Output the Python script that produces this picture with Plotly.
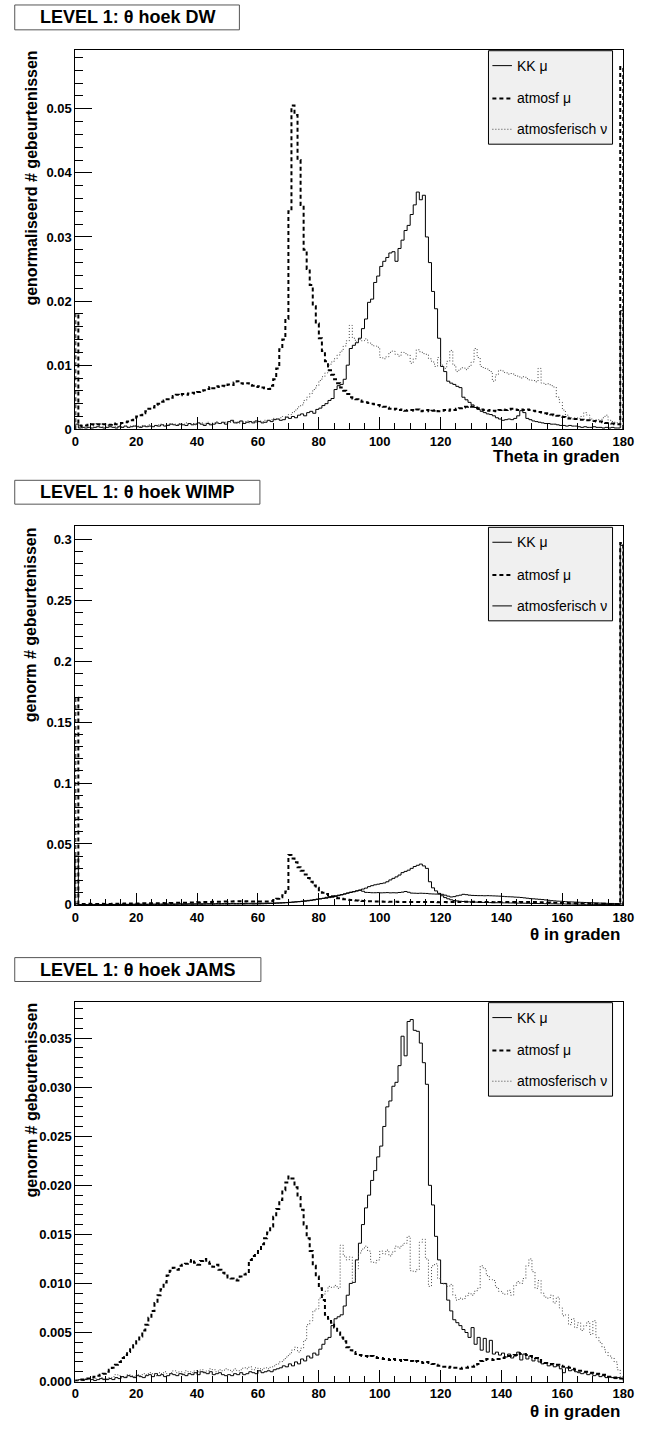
import numpy as np
import plotly.graph_objects as go

W, H = 646, 1433

# ---------------- data: normalised theta distributions, 1 degree bins 0..180 ----------------
BIN_LO, BIN_HI = 0, 180

# LEVEL 1 : DW
dw_kk = [
    0.0008, 0.0002, 0.0003, 0.0002, 0.0003, 0.0002, 0.0003, 0.0004, 0.0003, 0.0002,
    0.0003, 0.0004, 0.0003, 0.0002, 0.0004, 0.0003, 0.0005, 0.0003, 0.0004, 0.0005,
    0.0004, 0.0003, 0.0005, 0.0004, 0.0005, 0.0004, 0.0006, 0.0005, 0.0007, 0.0005,
    0.0006, 0.0008, 0.0007, 0.0006, 0.0008, 0.0007, 0.0006, 0.0009, 0.0007, 0.0008,
    0.0010, 0.0008, 0.0006, 0.0009, 0.0007, 0.0008, 0.0010, 0.0009, 0.0011, 0.0008,
    0.0012, 0.0014, 0.0010, 0.0011, 0.0013, 0.0009, 0.0011, 0.0012, 0.0010, 0.0013,
    0.0012, 0.0010, 0.0011, 0.0014, 0.0012, 0.0015, 0.0016, 0.0014, 0.0015, 0.0019,
    0.0017, 0.0020, 0.0018, 0.0022, 0.0024, 0.0021, 0.0026, 0.0028, 0.0025, 0.0031,
    0.0033, 0.0037, 0.0040, 0.0045, 0.0048, 0.0062, 0.0068, 0.0070, 0.0078, 0.0100,
    0.0126, 0.0131, 0.0135, 0.0142, 0.0157, 0.0172, 0.0198, 0.0203, 0.0229, 0.0239,
    0.0254, 0.0262, 0.0268, 0.0275, 0.0277, 0.0262, 0.0282, 0.0295, 0.0310, 0.0318,
    0.0335, 0.0350, 0.0370, 0.0358, 0.0365, 0.0300, 0.0260, 0.0215, 0.0188, 0.0142,
    0.0098, 0.0090, 0.0075, 0.0072, 0.0070, 0.0067, 0.0065, 0.0050, 0.0046, 0.0042,
    0.0038, 0.0034, 0.0031, 0.0028, 0.0026, 0.0024, 0.0023, 0.0021, 0.0018, 0.0016,
    0.0014, 0.0015, 0.0016, 0.0015, 0.0017, 0.0021, 0.0029, 0.0026, 0.0017, 0.0015,
    0.0013, 0.0012, 0.0011, 0.0010, 0.0009, 0.0009, 0.0008, 0.0008, 0.0007, 0.0006,
    0.0006, 0.0005, 0.0006, 0.0005, 0.0005, 0.0004, 0.0003, 0.0004, 0.0003, 0.0003,
    0.0004, 0.0003, 0.0003, 0.0002, 0.0003, 0.0002, 0.0003, 0.0002, 0.0002, 0.0185,
]
dw_atm_mu = [
    0.0180, 0.0006, 0.0005, 0.0006, 0.0007, 0.0008, 0.0007, 0.0008, 0.0007, 0.0008,
    0.0008, 0.0007, 0.0009, 0.0008, 0.0009, 0.0010, 0.0011, 0.0012, 0.0014, 0.0015,
    0.0020, 0.0022, 0.0025, 0.0028, 0.0032, 0.0034, 0.0038, 0.0040, 0.0043, 0.0045,
    0.0047, 0.0049, 0.0052, 0.0054, 0.0053, 0.0055, 0.0054, 0.0056, 0.0057, 0.0056,
    0.0058, 0.0060, 0.0061, 0.0063, 0.0066, 0.0064, 0.0067, 0.0066, 0.0068, 0.0067,
    0.0070, 0.0069, 0.0073, 0.0075, 0.0072, 0.0071, 0.0072, 0.0069, 0.0068, 0.0066,
    0.0067, 0.0065, 0.0064, 0.0063, 0.0068, 0.0078, 0.0095, 0.0125, 0.0140, 0.0172,
    0.0340, 0.0505, 0.0490, 0.0420, 0.0350, 0.0280, 0.0250, 0.0225, 0.0192, 0.0165,
    0.0142, 0.0122, 0.0106, 0.0092, 0.0085, 0.0078, 0.0072, 0.0065, 0.0060, 0.0055,
    0.0050, 0.0048, 0.0047, 0.0045, 0.0043, 0.0042, 0.0041, 0.0040, 0.0039, 0.0038,
    0.0036, 0.0035, 0.0034, 0.0032, 0.0031, 0.0032, 0.0030, 0.0031, 0.0029, 0.0030,
    0.0030, 0.0029, 0.0031, 0.0028, 0.0029, 0.0030, 0.0028, 0.0029, 0.0030, 0.0028,
    0.0029, 0.0030, 0.0029, 0.0031, 0.0030, 0.0032, 0.0033, 0.0034, 0.0035, 0.0036,
    0.0035, 0.0034, 0.0033, 0.0031, 0.0030, 0.0029, 0.0030, 0.0029, 0.0028, 0.0030,
    0.0031, 0.0030, 0.0031, 0.0032, 0.0031, 0.0030, 0.0031, 0.0030, 0.0031, 0.0030,
    0.0029, 0.0028, 0.0027, 0.0026, 0.0025, 0.0024, 0.0023, 0.0022, 0.0021, 0.0020,
    0.0019, 0.0018, 0.0017, 0.0016, 0.0016, 0.0015, 0.0015, 0.0014, 0.0014, 0.0013,
    0.0013, 0.0012, 0.0012, 0.0011, 0.0010, 0.0010, 0.0009, 0.0008, 0.0008, 0.0565,
]
dw_atm_nu = [
    0.0010, 0.0003, 0.0002, 0.0004, 0.0003, 0.0002, 0.0004, 0.0005, 0.0003, 0.0004,
    0.0004, 0.0005, 0.0003, 0.0004, 0.0006, 0.0004, 0.0005, 0.0003, 0.0005, 0.0006,
    0.0005, 0.0004, 0.0006, 0.0005, 0.0007, 0.0006, 0.0005, 0.0007, 0.0008, 0.0006,
    0.0007, 0.0009, 0.0008, 0.0007, 0.0009, 0.0008, 0.0010, 0.0008, 0.0009, 0.0007,
    0.0009, 0.0010, 0.0008, 0.0011, 0.0009, 0.0010, 0.0012, 0.0009, 0.0010, 0.0011,
    0.0010, 0.0012, 0.0011, 0.0009, 0.0012, 0.0011, 0.0013, 0.0010, 0.0012, 0.0011,
    0.0013, 0.0012, 0.0014, 0.0013, 0.0015, 0.0017, 0.0016, 0.0018, 0.0020, 0.0019,
    0.0023, 0.0026, 0.0030, 0.0035, 0.0038, 0.0045, 0.0050, 0.0056, 0.0062, 0.0068,
    0.0076, 0.0082, 0.0088, 0.0100, 0.0105, 0.0110, 0.0116, 0.0122, 0.0130, 0.0138,
    0.0162, 0.0142, 0.0136, 0.0140, 0.0138, 0.0141, 0.0135, 0.0132, 0.0130, 0.0128,
    0.0112, 0.0110, 0.0113, 0.0120, 0.0122, 0.0117, 0.0114, 0.0120, 0.0118, 0.0116,
    0.0103, 0.0110, 0.0124, 0.0121, 0.0118, 0.0117, 0.0110, 0.0105, 0.0098, 0.0112,
    0.0100, 0.0095, 0.0106, 0.0123, 0.0100, 0.0090, 0.0094, 0.0096, 0.0093, 0.0098,
    0.0105, 0.0126, 0.0112, 0.0098, 0.0095, 0.0094, 0.0090, 0.0075, 0.0085, 0.0092,
    0.0091, 0.0088, 0.0086, 0.0087, 0.0084, 0.0083, 0.0080, 0.0082, 0.0079, 0.0077,
    0.0076, 0.0074, 0.0095, 0.0072, 0.0070, 0.0071, 0.0068, 0.0066, 0.0050, 0.0042,
    0.0030, 0.0022, 0.0018, 0.0016, 0.0018, 0.0017, 0.0020, 0.0026, 0.0022, 0.0016,
    0.0014, 0.0015, 0.0013, 0.0018, 0.0022, 0.0014, 0.0012, 0.0011, 0.0010, 0.0004,
]

# LEVEL 1 : WIMP
wimp_kk = [
    0.0400, 0.0003, 0.0002, 0.0003, 0.0002, 0.0003, 0.0002, 0.0003, 0.0003, 0.0002,
    0.0003, 0.0002, 0.0003, 0.0003, 0.0002, 0.0003, 0.0004, 0.0003, 0.0003, 0.0004,
    0.0003, 0.0004, 0.0004, 0.0003, 0.0004, 0.0005, 0.0004, 0.0004, 0.0005, 0.0004,
    0.0005, 0.0005, 0.0004, 0.0005, 0.0006, 0.0005, 0.0005, 0.0006, 0.0005, 0.0006,
    0.0006, 0.0005, 0.0006, 0.0007, 0.0006, 0.0006, 0.0007, 0.0006, 0.0007, 0.0007,
    0.0007, 0.0008, 0.0007, 0.0007, 0.0008, 0.0007, 0.0008, 0.0008, 0.0007, 0.0008,
    0.0008, 0.0009, 0.0010, 0.0011, 0.0012, 0.0013, 0.0014, 0.0015, 0.0016, 0.0018,
    0.0020, 0.0022, 0.0024, 0.0026, 0.0028, 0.0030, 0.0033, 0.0036, 0.0040, 0.0045,
    0.0050, 0.0055, 0.0062, 0.0068, 0.0072, 0.0075, 0.0080, 0.0085, 0.0090, 0.0096,
    0.0102, 0.0108, 0.0115, 0.0122, 0.0130, 0.0138, 0.0150, 0.0158, 0.0165, 0.0170,
    0.0175, 0.0180, 0.0190, 0.0205, 0.0218, 0.0230, 0.0245, 0.0265, 0.0275, 0.0285,
    0.0300, 0.0315, 0.0325, 0.0335, 0.0320, 0.0300, 0.0190, 0.0140, 0.0115, 0.0095,
    0.0075, 0.0060, 0.0050, 0.0042, 0.0036, 0.0033, 0.0030, 0.0028, 0.0026, 0.0025,
    0.0024, 0.0023, 0.0022, 0.0021, 0.0020, 0.0020, 0.0019, 0.0019, 0.0018, 0.0018,
    0.0017, 0.0017, 0.0016, 0.0016, 0.0015, 0.0015, 0.0014, 0.0014, 0.0013, 0.0013,
    0.0012, 0.0012, 0.0011, 0.0011, 0.0010, 0.0010, 0.0009, 0.0009, 0.0008, 0.0008,
    0.0008, 0.0007, 0.0007, 0.0007, 0.0006, 0.0006, 0.0006, 0.0005, 0.0005, 0.0005,
    0.0005, 0.0004, 0.0004, 0.0004, 0.0004, 0.0003, 0.0003, 0.0003, 0.0003, 0.2950,
]
wimp_atm_mu = [
    0.1700, 0.0008, 0.0007, 0.0008, 0.0009, 0.0008, 0.0007, 0.0008, 0.0009, 0.0008,
    0.0009, 0.0008, 0.0009, 0.0010, 0.0009, 0.0010, 0.0011, 0.0010, 0.0011, 0.0012,
    0.0011, 0.0012, 0.0013, 0.0012, 0.0013, 0.0014, 0.0013, 0.0014, 0.0015, 0.0014,
    0.0015, 0.0016, 0.0016, 0.0017, 0.0017, 0.0018, 0.0018, 0.0019, 0.0019, 0.0020,
    0.0021, 0.0022, 0.0023, 0.0024, 0.0025, 0.0026, 0.0027, 0.0027, 0.0028, 0.0028,
    0.0029, 0.0029, 0.0030, 0.0030, 0.0030, 0.0029, 0.0030, 0.0029, 0.0028, 0.0028,
    0.0029, 0.0028, 0.0028, 0.0029, 0.0032, 0.0040, 0.0050, 0.0062, 0.0080, 0.0110,
    0.0410, 0.0380, 0.0350, 0.0310, 0.0280, 0.0250, 0.0220, 0.0190, 0.0160, 0.0140,
    0.0120, 0.0100, 0.0090, 0.0080, 0.0070, 0.0060, 0.0055, 0.0050, 0.0046, 0.0043,
    0.0040, 0.0038, 0.0036, 0.0034, 0.0033, 0.0032, 0.0031, 0.0030, 0.0029, 0.0028,
    0.0028, 0.0027, 0.0027, 0.0026, 0.0026, 0.0026, 0.0025, 0.0025, 0.0025, 0.0024,
    0.0024, 0.0024, 0.0024, 0.0023, 0.0023, 0.0023, 0.0023, 0.0023, 0.0023, 0.0022,
    0.0022, 0.0023, 0.0022, 0.0023, 0.0023, 0.0024, 0.0025, 0.0026, 0.0027, 0.0027,
    0.0026, 0.0025, 0.0024, 0.0024, 0.0023, 0.0023, 0.0023, 0.0022, 0.0022, 0.0023,
    0.0023, 0.0023, 0.0024, 0.0024, 0.0024, 0.0024, 0.0025, 0.0025, 0.0025, 0.0024,
    0.0024, 0.0023, 0.0022, 0.0021, 0.0020, 0.0019, 0.0018, 0.0018, 0.0017, 0.0016,
    0.0015, 0.0015, 0.0014, 0.0013, 0.0013, 0.0012, 0.0012, 0.0011, 0.0011, 0.0010,
    0.0010, 0.0010, 0.0009, 0.0009, 0.0008, 0.0008, 0.0008, 0.0007, 0.0007, 0.2970,
]
wimp_atm_nu = [
    0.0010, 0.0003, 0.0003, 0.0003, 0.0003, 0.0003, 0.0004, 0.0004, 0.0003, 0.0004,
    0.0004, 0.0004, 0.0004, 0.0005, 0.0004, 0.0005, 0.0005, 0.0005, 0.0005, 0.0006,
    0.0005, 0.0006, 0.0006, 0.0006, 0.0007, 0.0006, 0.0007, 0.0007, 0.0007, 0.0007,
    0.0008, 0.0008, 0.0008, 0.0008, 0.0009, 0.0008, 0.0009, 0.0009, 0.0009, 0.0009,
    0.0010, 0.0010, 0.0010, 0.0010, 0.0011, 0.0010, 0.0011, 0.0011, 0.0011, 0.0011,
    0.0011, 0.0012, 0.0012, 0.0012, 0.0012, 0.0012, 0.0013, 0.0013, 0.0013, 0.0013,
    0.0013, 0.0014, 0.0014, 0.0015, 0.0015, 0.0016, 0.0017, 0.0018, 0.0019, 0.0020,
    0.0022, 0.0024, 0.0026, 0.0028, 0.0031, 0.0034, 0.0037, 0.0040, 0.0044, 0.0048,
    0.0050, 0.0053, 0.0055, 0.0060, 0.0065, 0.0070, 0.0076, 0.0082, 0.0090, 0.0098,
    0.0105, 0.0109, 0.0115, 0.0120, 0.0112, 0.0103, 0.0102, 0.0100, 0.0100, 0.0101,
    0.0099, 0.0100, 0.0101, 0.0099, 0.0100, 0.0099, 0.0102, 0.0105, 0.0110, 0.0104,
    0.0097, 0.0096, 0.0095, 0.0096, 0.0095, 0.0094, 0.0091, 0.0090, 0.0089, 0.0088,
    0.0087, 0.0080, 0.0072, 0.0065, 0.0068, 0.0075, 0.0080, 0.0087, 0.0084, 0.0080,
    0.0078, 0.0077, 0.0076, 0.0076, 0.0075, 0.0076, 0.0075, 0.0074, 0.0073, 0.0072,
    0.0070, 0.0068, 0.0067, 0.0066, 0.0064, 0.0063, 0.0061, 0.0058, 0.0055, 0.0052,
    0.0050, 0.0048, 0.0046, 0.0044, 0.0041, 0.0038, 0.0035, 0.0033, 0.0031, 0.0030,
    0.0028, 0.0026, 0.0025, 0.0024, 0.0023, 0.0022, 0.0021, 0.0020, 0.0019, 0.0018,
    0.0017, 0.0016, 0.0015, 0.0014, 0.0013, 0.0012, 0.0012, 0.0011, 0.0010, 0.0008,
]

# LEVEL 1 : JAMS
jams_kk = [
    0.0001, 0.0002, 0.0001, 0.0002, 0.0003, 0.0002, 0.0001, 0.0002, 0.0003, 0.0002,
    0.0002, 0.0003, 0.0002, 0.0004, 0.0003, 0.0005, 0.0004, 0.0006, 0.0005, 0.0004,
    0.0006, 0.0005, 0.0004, 0.0006, 0.0007, 0.0005, 0.0008, 0.0006, 0.0007, 0.0005,
    0.0006, 0.0008, 0.0007, 0.0006, 0.0008, 0.0007, 0.0006, 0.0008, 0.0007, 0.0009,
    0.0007, 0.0010, 0.0009, 0.0008, 0.0010, 0.0007, 0.0008, 0.0009, 0.0007, 0.0006,
    0.0007, 0.0006, 0.0008, 0.0007, 0.0009, 0.0007, 0.0008, 0.0010, 0.0009, 0.0008,
    0.0011, 0.0009, 0.0010, 0.0011, 0.0010, 0.0012, 0.0013, 0.0014, 0.0016, 0.0015,
    0.0018, 0.0016, 0.0020, 0.0018, 0.0023, 0.0021, 0.0026, 0.0024, 0.0029, 0.0027,
    0.0033, 0.0038, 0.0043, 0.0045, 0.0057, 0.0064, 0.0066, 0.0068, 0.0077, 0.0088,
    0.0100, 0.0101, 0.0124, 0.0141, 0.0160, 0.0177, 0.0190, 0.0205, 0.0215, 0.0229,
    0.0240, 0.0260, 0.0280, 0.0286, 0.0301, 0.0305, 0.0322, 0.0352, 0.0332, 0.0367,
    0.0369, 0.0358, 0.0357, 0.0345, 0.0325, 0.0303, 0.0200, 0.0180, 0.0148, 0.0124,
    0.0100, 0.0100, 0.0083, 0.0072, 0.0063, 0.0060, 0.0057, 0.0053, 0.0050, 0.0045,
    0.0055, 0.0038, 0.0045, 0.0032, 0.0044, 0.0030, 0.0042, 0.0028, 0.0030, 0.0027,
    0.0029, 0.0025, 0.0028, 0.0024, 0.0026, 0.0030, 0.0022, 0.0028, 0.0023, 0.0026,
    0.0021, 0.0024, 0.0020, 0.0018, 0.0019, 0.0016, 0.0017, 0.0015, 0.0016, 0.0013,
    0.0009, 0.0014, 0.0011, 0.0012, 0.0010, 0.0009, 0.0008, 0.0009, 0.0007, 0.0008,
    0.0006, 0.0007, 0.0005, 0.0006, 0.0004, 0.0005, 0.0004, 0.0003, 0.0004, 0.0003,
]
jams_atm_mu = [
    0.0001, 0.0002, 0.0002, 0.0003, 0.0003, 0.0004, 0.0005, 0.0006, 0.0007, 0.0008,
    0.0010, 0.0012, 0.0014, 0.0017, 0.0020, 0.0024, 0.0027, 0.0030, 0.0033, 0.0037,
    0.0041, 0.0046, 0.0052, 0.0058, 0.0065, 0.0072, 0.0080, 0.0088, 0.0094, 0.0101,
    0.0108, 0.0113, 0.0116, 0.0114, 0.0118, 0.0119, 0.0120, 0.0122, 0.0124, 0.0121,
    0.0119, 0.0123, 0.0125, 0.0122, 0.0120, 0.0117, 0.0119, 0.0114, 0.0111, 0.0108,
    0.0106, 0.0105, 0.0104, 0.0103, 0.0107, 0.0109, 0.0110, 0.0124, 0.0128, 0.0131,
    0.0133, 0.0140, 0.0146, 0.0152, 0.0158, 0.0168, 0.0176, 0.0185, 0.0195, 0.0203,
    0.0209, 0.0207, 0.0198, 0.0188, 0.0175, 0.0160, 0.0146, 0.0133, 0.0118, 0.0107,
    0.0095, 0.0083, 0.0068, 0.0064, 0.0060, 0.0055, 0.0050, 0.0045, 0.0041, 0.0035,
    0.0032, 0.0030, 0.0028, 0.0027, 0.0026, 0.0026, 0.0025, 0.0026, 0.0025, 0.0024,
    0.0024, 0.0023, 0.0023, 0.0022, 0.0023, 0.0022, 0.0022, 0.0021, 0.0022, 0.0021,
    0.0021, 0.0020, 0.0021, 0.0020, 0.0019, 0.0020, 0.0019, 0.0018, 0.0017, 0.0016,
    0.0015, 0.0015, 0.0014, 0.0015, 0.0014, 0.0014, 0.0013, 0.0014, 0.0014, 0.0015,
    0.0015, 0.0016, 0.0018, 0.0021, 0.0022, 0.0023, 0.0023, 0.0022, 0.0023, 0.0023,
    0.0024, 0.0025, 0.0026, 0.0026, 0.0027, 0.0029, 0.0028, 0.0028, 0.0027, 0.0026,
    0.0025, 0.0024, 0.0022, 0.0020, 0.0019, 0.0018, 0.0018, 0.0017, 0.0017, 0.0016,
    0.0015, 0.0015, 0.0014, 0.0013, 0.0012, 0.0011, 0.0011, 0.0010, 0.0010, 0.0009,
    0.0009, 0.0008, 0.0008, 0.0007, 0.0006, 0.0005, 0.0005, 0.0004, 0.0003, 0.0003,
]
jams_atm_nu = [
    0.0001, 0.0002, 0.0001, 0.0003, 0.0002, 0.0002, 0.0003, 0.0002, 0.0004, 0.0003,
    0.0003, 0.0004, 0.0005, 0.0007, 0.0006, 0.0004, 0.0005, 0.0007, 0.0006, 0.0005,
    0.0007, 0.0006, 0.0008, 0.0007, 0.0009, 0.0008, 0.0006, 0.0009, 0.0008, 0.0010,
    0.0008, 0.0009, 0.0011, 0.0009, 0.0010, 0.0008, 0.0011, 0.0010, 0.0009, 0.0011,
    0.0010, 0.0012, 0.0010, 0.0011, 0.0013, 0.0012, 0.0010, 0.0012, 0.0011, 0.0013,
    0.0012, 0.0010, 0.0013, 0.0011, 0.0012, 0.0014, 0.0013, 0.0015, 0.0012, 0.0014,
    0.0013, 0.0012, 0.0014, 0.0013, 0.0015, 0.0016, 0.0018, 0.0020, 0.0022, 0.0025,
    0.0028, 0.0032, 0.0035, 0.0030, 0.0034, 0.0042, 0.0058, 0.0062, 0.0072, 0.0074,
    0.0085, 0.0088, 0.0092, 0.0097, 0.0096, 0.0098, 0.0095, 0.0139, 0.0128, 0.0124,
    0.0127, 0.0101, 0.0115, 0.0131, 0.0135, 0.0138, 0.0133, 0.0122, 0.0121, 0.0124,
    0.0133, 0.0130, 0.0134, 0.0128, 0.0132, 0.0138, 0.0136, 0.0139, 0.0141, 0.0148,
    0.0113, 0.0112, 0.0114, 0.0142, 0.0145, 0.0125, 0.0097, 0.0118, 0.0120, 0.0105,
    0.0100, 0.0099, 0.0097, 0.0099, 0.0088, 0.0083, 0.0085, 0.0084, 0.0087, 0.0090,
    0.0088, 0.0092, 0.0095, 0.0118, 0.0115, 0.0108, 0.0104, 0.0103, 0.0096, 0.0092,
    0.0090, 0.0089, 0.0093, 0.0088, 0.0098, 0.0102, 0.0100, 0.0105, 0.0118, 0.0125,
    0.0112, 0.0095, 0.0103, 0.0090, 0.0086, 0.0085, 0.0088, 0.0080, 0.0086, 0.0075,
    0.0067, 0.0068, 0.0058, 0.0064, 0.0055, 0.0060, 0.0052, 0.0057, 0.0061, 0.0048,
    0.0062, 0.0045, 0.0040, 0.0035, 0.0030, 0.0026, 0.0024, 0.0020, 0.0012, 0.0005,
]

series_names = ["KK \u03bc", "atmosf \u03bc", "atmosferisch \u03bd"]
panel_titles = ["LEVEL 1: \u03b8 hoek DW", "LEVEL 1: \u03b8 hoek WIMP", "LEVEL 1: \u03b8 hoek JAMS"]
x_titles = ["Theta in graden", "\u03b8 in graden", "\u03b8 in graden"]
y_titles = ["genormaliseerd # gebeurtenissen", "genorm # gebeurtenissen", "genorm # gebeurtenissen"]
x_ticks = [0, 20, 40, 60, 80, 100, 120, 140, 160, 180]

# ---------------- styling ----------------
FONT = "Liberation Sans, Arial, Helvetica, sans-serif"
SOLID = dict(color="black", width=1)
DASHED = dict(color="black", width=2, dash="4px,3px")
DOTTED = dict(color="#444444", width=1, dash="1px,2px")


def px_x(p):
    return p / W


def px_y(p):
    return 1 - p / H


# panel geometry in pixels: frame top, frame bottom, y range max, y major/minor step, tick format
panels = [
    dict(top=50.0, bot=431.7, ymax=0.0592, dmaj=0.01, dmin=0.002, fmt="",
         data=[dw_kk, dw_atm_mu, dw_atm_nu], styles=[SOLID, DASHED, DOTTED],
         tbox=(11, 5, 241, 30), xt_off=27),
    dict(top=529.3, bot=910.0, ymax=0.3106, dmaj=0.05, dmin=0.01, fmt="",
         data=[wimp_kk, wimp_atm_mu, wimp_atm_nu], styles=[SOLID, DASHED, SOLID],
         tbox=(11, 483, 262, 507), xt_off=30),
    dict(top=1007.3, bot=1389.3, ymax=0.03872, dmaj=0.005, dmin=0.001, fmt=".3f",
         data=[jams_kk, jams_atm_mu, jams_atm_nu], styles=[SOLID, DASHED, DOTTED],
         tbox=(11, 963, 263, 987), xt_off=30),
]
X_LEFT, X_RIGHT = 73.0, 634.0

edges = np.arange(BIN_LO, BIN_HI + 1)

fig = go.Figure()
shapes, annotations = [], []
layout = {}

for i, p in enumerate(panels):
    n = i + 1
    xa = "x" if n == 1 else f"x{n}"
    ya = "y" if n == 1 else f"y{n}"
    # histogram outlines drawn as steps
    for vals, style, name in zip(p["data"], p["styles"], series_names):
        v = list(vals)
        xs = [edges[0]] + list(edges) + [edges[-1]]
        ys = [0.0] + v + [v[-1], 0.0]
        fig.add_trace(go.Scatter(x=xs, y=ys, mode="lines", line=dict(shape="hv", **style),
                                 name=name, showlegend=False, xaxis=xa, yaxis=ya,
                                 hoverinfo="skip"))

    tickfont = dict(family=FONT, size=13, color="black", weight="bold")
    layout[f"xaxis{'' if n == 1 else n}"] = dict(
        domain=[px_x(X_LEFT), px_x(X_RIGHT)], anchor=ya, range=[BIN_LO, BIN_HI],
        tickmode="array", tickvals=x_ticks, ticktext=[str(t) for t in x_ticks],
        ticks="inside", ticklen=12, tickwidth=1, tickcolor="black",
        minor=dict(dtick=5, tick0=0, ticks="inside", ticklen=6, tickwidth=1, tickcolor="black"),
        showline=True, mirror=True, linecolor="black", linewidth=1,
        showgrid=False, zeroline=False, tickfont=tickfont, fixedrange=True,
    )
    layout[f"yaxis{'' if n == 1 else n}"] = dict(
        domain=[px_y(p["bot"]), px_y(p["top"])], anchor=xa, range=[0, p["ymax"]],
        tickmode="linear", tick0=0, dtick=p["dmaj"], tickformat=p["fmt"],
        ticks="inside", ticklen=17, tickwidth=1, tickcolor="black",
        minor=dict(dtick=p["dmin"], tick0=0, ticks="inside", ticklen=8, tickwidth=1, tickcolor="black"),
        showline=True, mirror=True, linecolor="black", linewidth=1,
        showgrid=False, zeroline=False, tickfont=tickfont, fixedrange=True,
    )

    # title box
    x0, y0, x1, y1 = p["tbox"]
    shapes.append(dict(type="rect", xref="paper", yref="paper",
                       x0=px_x(x0), x1=px_x(x1), y0=px_y(y1), y1=px_y(y0),
                       line=dict(color="#555555", width=1), fillcolor="white"))
    annotations.append(dict(text=panel_titles[i], xref="paper", yref="paper",
                            x=px_x((x0 + x1) / 2), y=px_y((y0 + y1) / 2),
                            xanchor="center", yanchor="middle", showarrow=False,
                            font=dict(family=FONT, size=18, color="black", weight="bold")))

    # axis titles
    annotations.append(dict(text=x_titles[i], xref="paper", yref="paper",
                            x=px_x(X_RIGHT - 1), y=px_y(p["bot"] + p["xt_off"]),
                            xanchor="right", yanchor="middle", showarrow=False,
                            font=dict(family=FONT, size=17, color="black", weight="bold")))
    annotations.append(dict(text=y_titles[i], xref="paper", yref="paper",
                            x=px_x(28), y=px_y(p["top"] - 1), textangle=-90,
                            xanchor="center", yanchor="top", showarrow=False,
                            font=dict(family=FONT, size=16, color="black", weight="bold")))

    # legend box
    lx0, lx1 = 496, 623
    ly0, ly1 = p["top"] + 1, p["top"] + 95
    shapes.append(dict(type="rect", xref="paper", yref="paper",
                       x0=px_x(lx0), x1=px_x(lx1), y0=px_y(ly1), y1=px_y(ly0),
                       line=dict(color="black", width=1), fillcolor="#f0f0f0"))
    for k, (name, style) in enumerate(zip(series_names, p["styles"])):
        yy = p["top"] + [16, 49, 80][k]
        shapes.append(dict(type="line", xref="paper", yref="paper",
                           x0=px_x(500), x1=px_x(520), y0=px_y(yy), y1=px_y(yy),
                           line=style))
        annotations.append(dict(text=name, xref="paper", yref="paper",
                                x=px_x(523), y=px_y(yy), xanchor="left", yanchor="middle",
                                showarrow=False,
                                font=dict(family=FONT, size=14, color="black")))

fig.update_layout(
    width=W, height=H, margin=dict(l=0, r=0, t=0, b=0),
    paper_bgcolor="white", plot_bgcolor="white", showlegend=False,
    shapes=shapes, annotations=annotations, **layout,
)

fig.write_html("out.html")
